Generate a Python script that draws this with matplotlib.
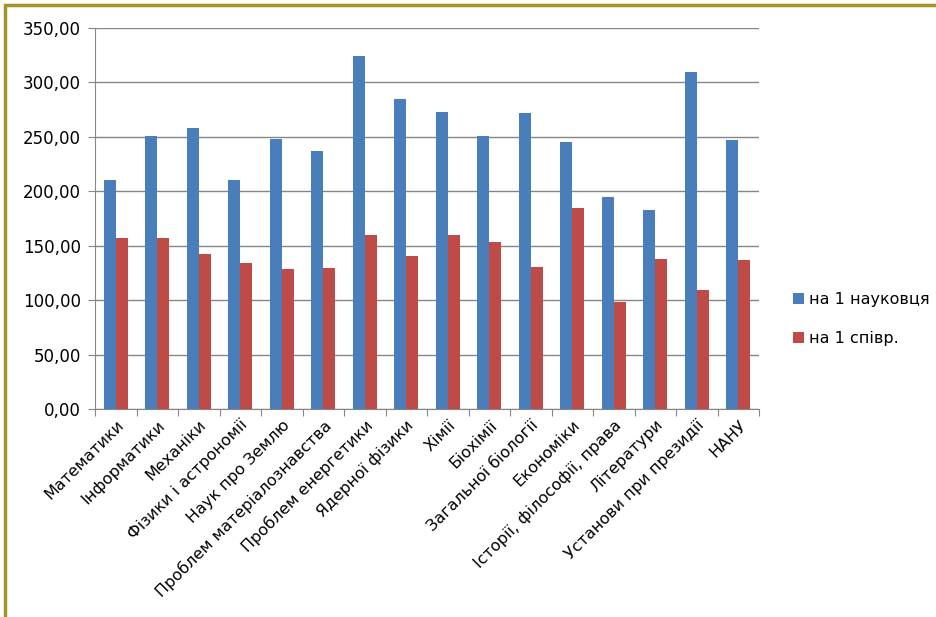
import numpy as np
import matplotlib.pyplot as plt
from matplotlib.patches import Rectangle
from matplotlib.ticker import FuncFormatter

categories = ["Математики", "Інформатики", "Механіки", "Фізики і астрономії",
              "Наук про Землю", "Проблем матеріалознавства", "Проблем енергетики",
              "Ядерної фізики", "Хімії", "Біохімії", "Загальної біології",
              "Економіки", "Історії, філософії, права", "Літератури",
              "Установи при президії", "НАНУ"]
per_scientist = [210.0, 250.8, 258.0, 210.0, 248.0, 236.7, 324.5, 284.6, 273.0,
                 250.5, 272.0, 245.6, 194.3, 182.7, 309.8, 247.5]
per_employee = [157.0, 157.0, 142.8, 133.9, 128.6, 129.6, 159.7, 140.3, 159.7,
                153.5, 130.5, 184.5, 98.6, 137.5, 109.0, 136.6]

plt.rcParams['font.family'] = ['DejaVu Sans']
fig = plt.figure(figsize=(9.36, 6.17), dpi=100)
ax = fig.add_axes([95/936, 1 - 409/617, (759 - 95)/936, (409 - 28)/617])

# gold frame on the left and top
fig.patches.append(Rectangle((5/936, -0.1), 1.2, 1 - 5/617 + 0.1, transform=fig.transFigure,
                             fill=False, edgecolor='#a8922a', linewidth=2.5))

x = np.arange(len(categories))
w = 0.29
ax.bar(x - w/2, per_scientist, w, color='#4a7ebb', label='на 1 науковця', zorder=3)
ax.bar(x + w/2, per_employee, w, color='#be4b48', label='на 1 співр.', zorder=3)

ax.set_xlim(-0.5, len(categories) - 0.5)
ax.set_ylim(0, 350)
ax.set_yticks(np.arange(0, 351, 50))
ax.yaxis.set_major_formatter(FuncFormatter(lambda v, p: f"{v:.2f}".replace('.', ',')))
ax.grid(axis='y', color='#868686', linewidth=1, zorder=0)
for s in ['top', 'right']:
    ax.spines[s].set_visible(False)
for s in ['left', 'bottom']:
    ax.spines[s].set_color('#868686')

ax.set_xticks(np.arange(len(categories) + 1) - 0.5, minor=False)
ax.set_xticklabels([])
ax.tick_params(axis='x', length=5, color='#868686')
ax.tick_params(axis='y', length=5, color='#868686', labelsize=12, pad=5)
ax.set_xticks(x, minor=True)
ax.set_xticklabels(categories, minor=True, rotation=45, ha='right', rotation_mode='anchor',
                   fontsize=11.5)
ax.tick_params(axis='x', which='minor', length=0, pad=6)

ax.legend(loc='center left', bbox_to_anchor=(1.03, 0.235), frameon=False, fontsize=11.5,
          handlelength=0.7, handleheight=0.7, handletextpad=0.3, labelspacing=1.5)

fig.savefig('out.png')
